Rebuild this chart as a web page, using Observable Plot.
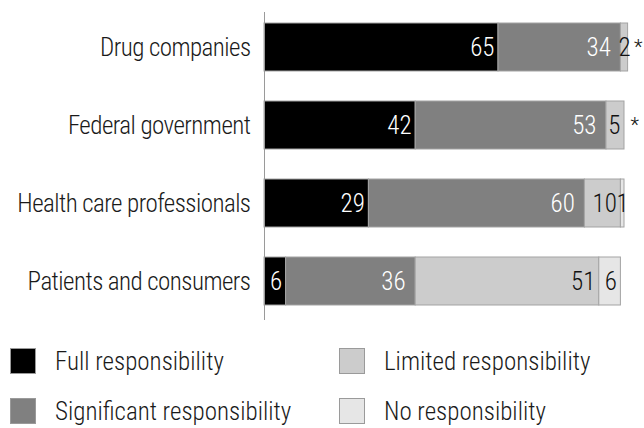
<!DOCTYPE html>
<html>
<head>
<meta charset="utf-8">
<script src="https://cdn.jsdelivr.net/npm/d3@7"></script>
<script src="https://cdn.jsdelivr.net/npm/@observablehq/plot@0.6"></script>
<style>
  body { margin: 0; background: #fff; }
  #chart { width: 644px; font-family: "Roboto Condensed", sans-serif; font-weight: 300; color: #1a1a1a; }
  #chart svg g[aria-label="y-axis tick label"] text { letter-spacing: -0.55px; }
  .legend { display: grid; grid-template-columns: 329px 305px; grid-auto-rows: 50px; padding-left: 10px; margin-top: 6px; font-size: 25px; }
  .legend .item { display: flex; align-items: center; }
  .legend .sw { width: 26px; height: 26px; box-sizing: border-box; border: 1px solid #9a9a9a; margin-right: 19px; flex: none; }
</style>
</head>
<body>
<div id="chart"></div>
<script>
const categories = ["Drug companies", "Federal government", "Health care professionals", "Patients and consumers"];
const seriesNames = ["Full responsibility", "Significant responsibility", "Limited responsibility", "No responsibility"];
const seriesColors = ["#000000", "#808080", "#cccccc", "#e6e6e6"];
const fullValues = [65, 42, 29, 6];
const significantValues = [34, 53, 60, 36];
const limitedValues = [2, 5, 10, 51];
const noValues = [0, 0, 1, 6];
const noLabels = ["*", "*", "1", "6"];

const data = categories.flatMap((cat, i) => [
  {cat, series: seriesNames[0], value: fullValues[i], label: String(fullValues[i])},
  {cat, series: seriesNames[1], value: significantValues[i], label: String(significantValues[i])},
  {cat, series: seriesNames[2], value: limitedValues[i], label: String(limitedValues[i])},
  {cat, series: seriesNames[3], value: noValues[i], label: noLabels[i]}
]);

const font = '"Roboto Condensed", sans-serif';
const so = {x: "value", y: "cat", z: "series", text: "label"};

const plot = Plot.plot({
  width: 644,
  height: 330,
  marginLeft: 264,
  marginRight: 20,
  marginTop: 12,
  marginBottom: 10,
  style: {fontFamily: font, fontWeight: 300, fontSize: "25px", color: "#1a1a1a", background: "white", overflow: "visible"},
  x: {domain: [0, 100], axis: null},
  y: {domain: categories, paddingInner: 0.39, paddingOuter: 0.1525, align: 0.417, label: null, tickSize: 0, tickPadding: 14},
  color: {domain: seriesNames, range: seriesColors},
  marks: [
    Plot.barX(data, Plot.stackX({x: "value", y: "cat", z: "series", fill: "series", stroke: "#a3a3a3", strokeWidth: 1})),
    Plot.ruleX([0], {stroke: "#9a9a9a", strokeWidth: 1}),
    Plot.text(data, {...Plot.stackX2(so), filter: d => d.series === seriesNames[0], fill: "white", textAnchor: "end", dx: -4}),
    Plot.text(data, {...Plot.stackX2(so), filter: d => d.series === seriesNames[1], fill: "white", textAnchor: "end", dx: -10}),
    Plot.text(data, {...Plot.stackX2(so), filter: d => (d.series === seriesNames[2] || d.series === seriesNames[3]) && d.value > 2, fill: "#111", textAnchor: "end", dx: -4}),
    Plot.text(data, {...Plot.stackX(so), filter: d => (d.series === seriesNames[2] || d.series === seriesNames[3]) && d.value > 0 && d.value <= 2, fill: "#111", textAnchor: "middle"}),
    Plot.text(data, {...Plot.stackX2(so), filter: d => d.value === 0, fill: "#111", textAnchor: "start", dx: 6, fontSize: 20})
  ]
});

const chart = document.getElementById("chart");
chart.appendChild(plot);

const legend = document.createElement("div");
legend.className = "legend";
const order = [0, 2, 1, 3];
for (const k of order) {
  const item = document.createElement("div");
  item.className = "item";
  const sw = document.createElement("span");
  sw.className = "sw";
  sw.style.background = seriesColors[k];
  const lab = document.createElement("span");
  lab.textContent = seriesNames[k];
  item.appendChild(sw);
  item.appendChild(lab);
  legend.appendChild(item);
}
chart.appendChild(legend);
</script>
</body>
</html>
